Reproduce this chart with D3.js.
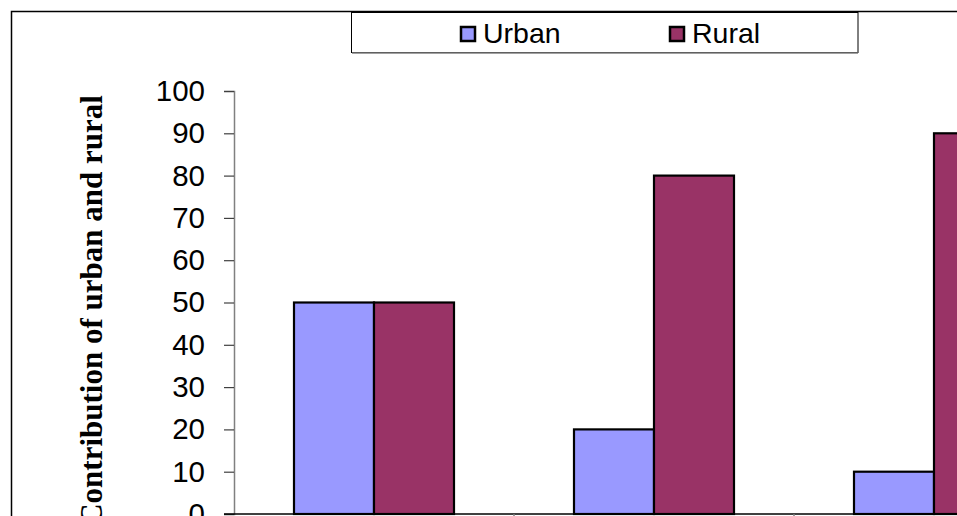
<!DOCTYPE html>
<html>
<head>
<meta charset="utf-8">
<script src="https://cdn.jsdelivr.net/npm/d3@7"></script>
<style>
  html, body { margin: 0; padding: 0; background: #fff; overflow: hidden; }
  svg { display: block; }
</style>
</head>
<body>
<script>
// Chart data
const categories = ["Group 1", "Group 2", "Group 3"];
const seriesNames = ["Urban", "Rural"];
const urbanValues = [50, 20, 10];
const ruralValues = [50, 80, 90];
const yTicks = [0, 10, 20, 30, 40, 50, 60, 70, 80, 90, 100];
const seriesColors = ["#9999FF", "#993366"];

const width = 1150, height = 620;
const svg = d3.select("body").append("svg")
  .attr("width", width).attr("height", height);

// Outer chart frame
svg.append("rect")
  .attr("x", 11.5).attr("y", 11.5)
  .attr("width", width).attr("height", height)
  .attr("fill", "#fff").attr("stroke", "#000").attr("stroke-width", 1.5);

// Plot geometry
const plotLeft = 234, plotTop = 91, plotBottom = 514;
const step = 280;

const y = d3.scaleLinear().domain([0, 100]).range([plotBottom, plotTop]);
const x = d3.scaleBand().domain(categories)
  .range([plotLeft, plotLeft + step * categories.length])
  .paddingInner(0).paddingOuter(0);
// Two bars per group with a 150% gap
const xs = d3.scaleBand().domain(seriesNames)
  .range([0, x.bandwidth()]).paddingInner(0).paddingOuter(0.75);

const data = categories.map((c, i) => ({
  cat: c,
  values: [
    { s: "Urban", v: urbanValues[i] },
    { s: "Rural", v: ruralValues[i] }
  ]
}));

// Y axis
const yAxis = d3.axisLeft(y).tickValues(yTicks).tickSize(10).tickPadding(19);
const gy = svg.append("g")
  .attr("transform", `translate(${plotLeft},0)`)
  .call(yAxis);
gy.select(".domain").attr("stroke", "#808080").attr("stroke-width", 1.5);
gy.selectAll(".tick line").attr("stroke", "#404040").attr("stroke-width", 1.2);
gy.selectAll(".tick text")
  .attr("font-family", "Liberation Sans, Arial, sans-serif")
  .attr("font-size", 29.5).attr("fill", "#000");

// Bars
const groups = svg.append("g").selectAll("g")
  .data(data).join("g")
  .attr("transform", d => `translate(${x(d.cat)},0)`);
groups.selectAll("rect")
  .data(d => d.values).join("rect")
  .attr("x", d => xs(d.s))
  .attr("y", d => y(d.v))
  .attr("width", xs.bandwidth())
  .attr("height", d => y(0) - y(d.v))
  .attr("fill", (d, i) => seriesColors[i])
  .attr("stroke", "#000").attr("stroke-width", 2.2);

// X axis line with category boundary ticks
svg.append("line")
  .attr("x1", plotLeft - 10).attr("x2", plotLeft + step * categories.length)
  .attr("y1", y(0)).attr("y2", y(0))
  .attr("stroke", "#000").attr("stroke-width", 1.5);
svg.append("g").selectAll("line")
  .data(categories.slice(1)).join("line")
  .attr("x1", d => x(d)).attr("x2", d => x(d))
  .attr("y1", y(0)).attr("y2", y(0) + 10)
  .attr("stroke", "#808080").attr("stroke-width", 1.5);

// Y axis title
svg.append("text")
  .attr("transform", `translate(102,${(plotTop + plotBottom) / 2 + 8}) rotate(-90)`)
  .attr("text-anchor", "middle")
  .attr("font-family", "Liberation Serif, 'Times New Roman', serif")
  .attr("font-weight", "bold").attr("font-size", 31)
  .attr("fill", "#000")
  .text("Contribution of urban and rural");

// Legend
const legend = svg.append("g");
legend.append("rect")
  .attr("x", 351.5).attr("y", 12.5).attr("width", 506.5).attr("height", 40)
  .attr("fill", "#fff").attr("stroke", "#000").attr("stroke-width", 1);
legend.append("line")
  .attr("x1", 352).attr("x2", 858).attr("y1", 53).attr("y2", 53)
  .attr("stroke", "#808080").attr("stroke-width", 1.5);
const legendX = [461, 670];
const legendItems = legend.selectAll("g.item")
  .data(seriesNames).join("g").attr("class", "item")
  .attr("transform", (d, i) => `translate(${legendX[i]},0)`);
legendItems.append("rect")
  .attr("x", 0).attr("y", 27).attr("width", 14).attr("height", 14)
  .attr("fill", (d, i) => seriesColors[i])
  .attr("stroke", "#000").attr("stroke-width", 2.5);
legendItems.append("text")
  .attr("x", 22).attr("y", 42.5)
  .attr("font-family", "Liberation Sans, Arial, sans-serif")
  .attr("font-size", 28.5).attr("fill", "#000")
  .text(d => d);
</script>
</body>
</html>
